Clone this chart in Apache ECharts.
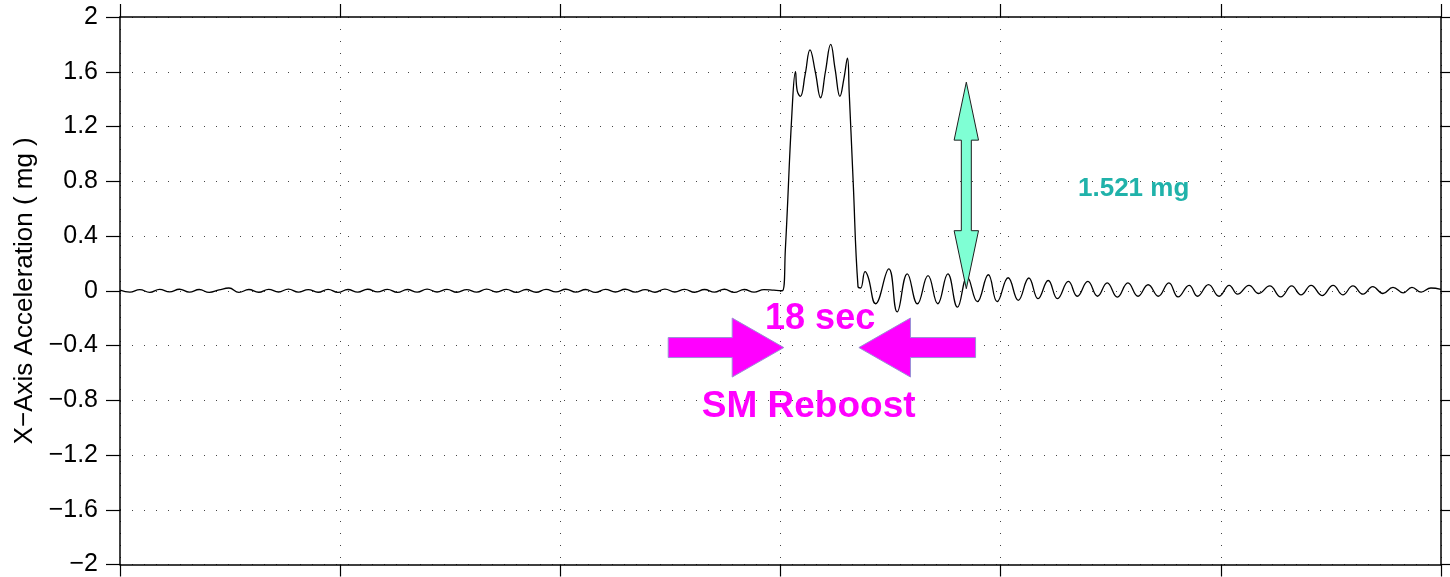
<!DOCTYPE html>
<html>
<head>
<meta charset="utf-8">
<script src="https://cdn.jsdelivr.net/npm/echarts@6/dist/echarts.min.js"></script>
<style>html,body{margin:0;padding:0;background:#fff}#c{width:1450px;height:577px}</style>
</head>
<body>
<div id="c"></div>
<script>
// ---- data (time in s, acceleration in mg) ----
const baseStep = 2.25;           // sampling of the quiet baseline segment (s)
const baseY = [0.004,-0.010,0.008,-0.012,0.010,-0.008,0.011,-0.010,0.009,-0.012,
  0.006,0.020,-0.012,0.009,-0.011,0.010,-0.009,0.012,-0.010,0.008,
  -0.011,0.010,-0.012,0.009,-0.010,0.011,-0.008,0.010,-0.012,0.009,
  -0.010,0.012,-0.009,0.010,-0.011,0.008,-0.010,0.012,-0.009,0.010,
  -0.012,0.009,-0.011,0.010,-0.008,0.011,-0.010,0.009,-0.012,0.010,
  -0.009,0.011,-0.010,0.008,-0.011,0.012,-0.009,0.010,-0.011,0.009,
  -0.010,0.011,-0.012,0.009,-0.010,0.008,0.004];
const eventT = [150.4,151.1,152.6,153.4,153.8,154.5,155.6,156.7,157.9,159.1,
  160.2,161.4,162.4,163.5,164.4,165.2,165.6,166.5,167.6,168.2,
  169.2,169.9,171.6,174.6,176.5,178.8,181.1,183.5,185.7,188.0,
  190.2,192.4,194.7,197.2,199.2,201.7,204.0,206.4,208.5,210.8,
  212.9,215.4,217.4,219.8,222.0,224.2,226.5,228.9,231.2,233.5,
  235.8,238.2,240.3,242.8,244.7,247.2,249.6,251.9,253.8,256.4,
  258.6,261.1,263.6,266.1,268.2,270.5,273.0,275.5,277.7,280.0,
  282.3,284.5,286.8,289.1,291.4,293.4,295.5,297.7,300];
const eventY = [0.0,0.30,1.30,1.60,1.46,1.42,1.58,1.76,1.60,1.41,
  1.60,1.80,1.62,1.42,1.55,1.70,1.45,0.80,0.03,0.02,
  0.14,0.10,-0.095,0.16,-0.155,0.124,-0.095,0.11,-0.095,0.124,
  -0.12,0.10,-0.08,0.117,-0.08,0.095,-0.07,0.093,-0.058,0.075,
  -0.058,0.068,-0.04,0.068,-0.04,0.058,-0.046,0.058,-0.04,0.044,
  -0.04,0.058,-0.045,0.04,-0.04,0.045,-0.04,0.04,-0.025,0.04,
  -0.02,0.035,-0.045,0.035,-0.03,0.04,-0.035,0.04,-0.03,0.035,
  -0.025,0.03,-0.02,0.025,-0.015,0.025,-0.01,0.02,0.01];
const yTicks = [-2,-1.6,-1.2,-0.8,-0.4,0,0.4,0.8,1.2,1.6,2];

// annotations (data coordinates)
const arrowTail = [[124.5,-0.415],[194.3,-0.415],[192.2,0.015]];
const arrowTip  = [[150.75,-0.415],[167.8,-0.415],[192.2,1.524]];
const arrowDouble = [false,false,true];
const labelText = ['18 sec','SM Reboost','1.521 mg'];
const labelPos  = [[159.0,-0.205],[156.4,-0.845],[230.2,0.745]];

// ---- styles ----
const FONT = '"Liberation Sans", Arial, Helvetica, sans-serif';
const arrowStyles = [
  {fill:'#FF00FF', stroke:'#9a8fd6', sw:10, hw:29.5, hl:51.6},
  {fill:'#FF00FF', stroke:'#9a8fd6', sw:10, hw:29.5, hl:51.6},
  {fill:'#7FFFD4', stroke:'#1e1e1e', sw:5, hw:12.2, hl:58}
];
const labelStyles = [
  {color:'#FF00FF', size:36},
  {color:'#FF00FF', size:37},
  {color:'#20B2AA', size:26}
];

const lineData = baseY.map((v,i)=>[i*baseStep, v]).concat(eventT.map((t,i)=>[t, eventY[i]]));
const arrowData = arrowTail.map((p,i)=>[p[0],p[1],arrowTip[i][0],arrowTip[i][1]]);

function fmt(v){
  const r = Math.round(v*10)/10;
  return (r<0?'\u2212':'') + Math.abs(r);
}

const chart = echarts.init(document.getElementById('c'), null, {renderer:'canvas'});
const axisLine = {show:true, onZero:false, lineStyle:{color:'#000', width:1.5}};
const dotted = {show:true, lineStyle:{color:'#444', width:1, type:[1,11]}};
chart.setOption({
  animation:false,
  backgroundColor:'#fff',
  grid:{left:120, right:9, top:17, bottom:11, containLabel:false},
  xAxis:[
    {type:'value', min:0, max:300, interval:50, position:'bottom',
     axisLine:axisLine, axisTick:{show:true, length:12, lineStyle:{color:'#000', width:1.2}},
     axisLabel:{show:false}, splitLine:dotted},
    {type:'value', min:0, max:300, interval:50, position:'top',
     axisLine:axisLine, axisTick:{show:true, length:13, lineStyle:{color:'#000', width:1.2}},
     axisLabel:{show:false}, splitLine:{show:false}}
  ],
  yAxis:[
    {type:'value', min:yTicks[0], max:yTicks[yTicks.length-1], interval:0.4, position:'left',
     axisLine:axisLine, axisTick:{show:true, length:14, lineStyle:{color:'#000', width:1.2}},
     axisLabel:{show:true, formatter:fmt, color:'#000', fontSize:25, fontFamily:FONT, margin:22},
     splitLine:dotted,
     name:'X\u2212Axis Acceleration ( mg )', nameLocation:'middle', nameGap:80,
     nameTextStyle:{color:'#000', fontSize:26, fontFamily:FONT}},
    {type:'value', min:yTicks[0], max:yTicks[yTicks.length-1], interval:0.4, position:'right',
     axisLine:axisLine, axisTick:{show:true, length:10, lineStyle:{color:'#000', width:1.2}},
     axisLabel:{show:false}, splitLine:{show:false}}
  ],
  series:[
    {type:'line', xAxisIndex:0, yAxisIndex:0, data:lineData, showSymbol:false, smooth:0.45,
     lineStyle:{color:'#000', width:1.3}, z:3, silent:true},
    {type:'custom', xAxisIndex:0, yAxisIndex:0, data:arrowData, z:5, silent:true,
     encode:{x:[0,2], y:[1,3]},
     renderItem:function(params, api){
       const i = params.dataIndex, st = arrowStyles[i];
       const a = api.coord([api.value(0), api.value(1)]);
       const b = api.coord([api.value(2), api.value(3)]);
       const L = Math.hypot(b[0]-a[0], b[1]-a[1]);
       const d = [(b[0]-a[0])/L, (b[1]-a[1])/L], n = [-d[1], d[0]];
       const P = (base, along, side) => [base[0]+d[0]*along+n[0]*side, base[1]+d[1]*along+n[1]*side];
       let pts;
       if (arrowDouble[i]) {
         pts = [a, P(a,st.hl,st.hw), P(a,st.hl,st.sw), P(b,-st.hl,st.sw), P(b,-st.hl,st.hw), b,
                P(b,-st.hl,-st.hw), P(b,-st.hl,-st.sw), P(a,st.hl,-st.sw), P(a,st.hl,-st.hw)];
       } else {
         pts = [P(a,0,st.sw), P(b,-st.hl,st.sw), P(b,-st.hl,st.hw), b,
                P(b,-st.hl,-st.hw), P(b,-st.hl,-st.sw), P(a,0,-st.sw)];
       }
       return {type:'polygon', shape:{points:pts}, style:{fill:st.fill, stroke:st.stroke, lineWidth:1}};
     }},
    {type:'custom', xAxisIndex:0, yAxisIndex:0, data:labelPos, z:6, silent:true,
     renderItem:function(params, api){
       const i = params.dataIndex, st = labelStyles[i];
       const p = api.coord([api.value(0), api.value(1)]);
       return {type:'text', x:p[0], y:p[1],
         style:{text:labelText[i], fill:st.color, fontSize:st.size, fontWeight:'bold',
                fontFamily:FONT, align:'center', verticalAlign:'middle'}};
     }}
  ]
});
</script>
</body>
</html>
